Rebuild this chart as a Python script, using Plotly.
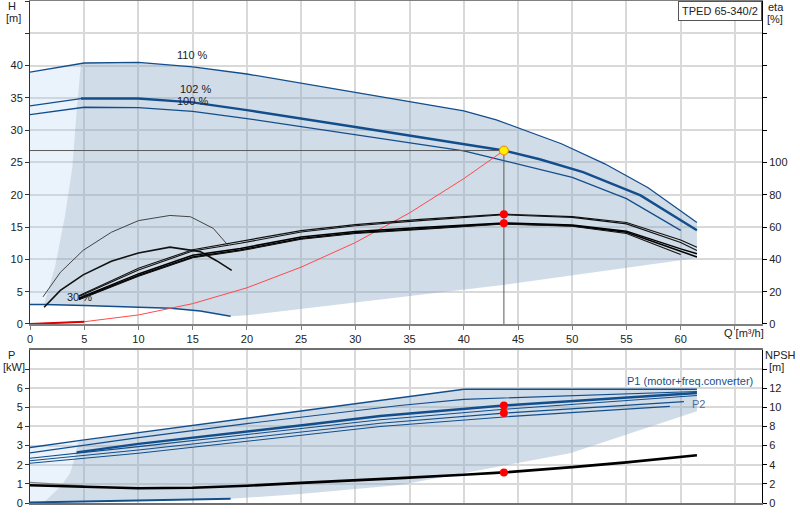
import plotly.graph_objects as go

# head curves, Q in m3/h, H in m
q_110 = [0, 5, 10, 15, 20, 30, 40, 43, 46, 49, 53, 57, 61.5]
h_110 = [39.0, 40.4, 40.5, 39.8, 38.7, 35.9, 33.0, 31.6, 29.8, 27.9, 24.8, 21.1, 15.7]
q_102_start = [0, 4.7]
h_102_start = [33.75, 34.9]
q_102 = [4.7, 10, 15, 20, 30, 40, 43.7, 47, 51, 56.3, 61.5]
h_102 = [34.9, 34.9, 34.3, 33.1, 30.5, 27.8, 26.85, 25.5, 23.5, 19.9, 14.5]
q_100 = [0, 5, 10, 15, 20, 30, 40, 43.4, 46.1, 50, 55, 60]
h_100 = [32.4, 33.55, 33.5, 32.9, 31.8, 29.3, 26.8, 25.4, 24.3, 22.7, 19.4, 14.5]
q_min = [0, 1.3, 5, 10, 13, 15.7, 18.5]
h_min = [3.0, 3.0, 2.85, 2.65, 2.42, 2.0, 1.2]

# edges of the operating range
q_left_edge = [1.3, 2.3, 3.2, 3.9, 4.3, 4.7]
h_left_edge = [3.0, 8.8, 16.5, 24.2, 33.0, 40.4]
q_low_edge = [61.5, 43.4, 30, 20.3, 18.5]
h_low_edge = [10.2, 6.0, 3.3, 1.4, 1.2]

# 30 % curves
q_hump_thin = [1.2, 2.8, 4.9, 7.5, 10, 12.9, 14.8, 16.9, 18.2]
h_hump_thin = [4.2, 8.0, 11.4, 14.2, 16.0, 16.8, 16.6, 14.8, 12.3]
q_hump = [1.3, 2.8, 4.9, 7.5, 10, 12.9, 15.7, 17.2, 18.6]
h_hump = [2.6, 5.2, 7.6, 9.7, 11.0, 11.9, 11.2, 9.8, 8.3]

# system curve
q_sys = [0, 5, 10, 15, 20, 25, 30, 35, 40, 43.7]
h_sys = [0, 0.35, 1.4, 3.15, 5.6, 8.8, 12.6, 17.2, 22.5, 26.85]

# efficiency curves, eta in %
q_eta = [4.5, 10, 15, 19.4, 25, 30, 36, 43.7, 50, 55, 60, 61.5]
eta_1 = [17.5, 34.5, 46.0, 51.0, 57.8, 61.5, 64.8, 68.0, 66.5, 62.8, 52.0, 47.5]
eta_2 = [17.0, 33.5, 45.2, 50.0, 57.0, 60.8, 64.0, 67.6, 66.0, 62.0, 50.5, 45.5]
eta_3 = [16.0, 31.0, 42.5, 46.8, 53.8, 57.3, 59.8, 62.6, 61.3, 57.5, 46.5, 43.5]
eta_4 = [15.5, 30.0, 41.5, 45.8, 53.0, 56.5, 59.0, 62.2, 60.9, 56.8, 45.0, 41.5]
q_eta_5 = [4.5, 10, 15, 19.4, 25, 30, 36, 43.7, 50, 55, 60]
eta_5 = [15.0, 29.5, 41.0, 45.3, 52.5, 56.0, 58.6, 61.9, 60.5, 56.0, 43.0]

# power curves, P in kW
q_p1_110 = [0, 5, 40, 61.5]
p_p1_110 = [2.9, 3.3, 5.95, 5.95]
q_p2_110 = [0, 10, 20, 34.1, 40, 61.5]
p_p2_110 = [2.62, 3.42, 4.15, 5.1, 5.42, 5.83]
q_p1_102 = [4.3, 10, 24.9, 32.3, 43.7, 61.5]
p_p1_102 = [2.65, 3.09, 4.05, 4.55, 5.1, 5.75]
q_p1_100 = [0, 10, 32.3, 43.7, 61.5]
p_p1_100 = [2.34, 2.95, 4.35, 4.9, 5.62]
q_p2_102 = [0, 10, 32.3, 43.7, 60.3]
p_p2_102 = [2.21, 2.77, 4.17, 4.7, 5.3]
q_p2_100 = [0, 10, 32.3, 43.7, 59]
p_p2_100 = [2.08, 2.6, 4.0, 4.5, 5.05]
q_p_min = [0, 18.5]
p_p_min = [0.03, 0.22]

q_p_left_edge = [1.2, 2.8, 3.7, 4.15, 4.4, 4.6]
p_p_left_edge = [0.0, 0.85, 1.55, 2.4, 3.1, 3.25]
q_p_low_edge = [61.5, 49.8, 34.1, 24.9, 18.5]
p_p_low_edge = [4.8, 2.6, 0.94, 0.47, 0.22]

# NPSH in m
q_npsh = [0, 5, 10, 15, 20, 25, 30, 34.1, 40, 43.7, 50, 55, 61.5]
npsh = [1.85, 1.7, 1.55, 1.6, 1.8, 2.1, 2.35, 2.6, 2.95, 3.2, 3.75, 4.25, 5.0]
q_npsh_thin = [0, 5]
npsh_thin = [2.15, 1.8]

# duty point
q_duty = 43.7
h_duty = 26.85
eta_duty = [67.9, 62.4]
p_duty = [5.1, 4.7]
npsh_duty = 3.2

BLUE = '#134e8c'
DARK = 'rgba(138,168,198,0.4)'
LIGHT = 'rgba(180,210,245,0.28)'

fig = go.Figure()


def line(x, y, color, width, xa='x', ya='y'):
    fig.add_trace(go.Scatter(x=x, y=y, mode='lines', xaxis=xa, yaxis=ya,
                             line=dict(color=color, width=width),
                             hoverinfo='skip'))


def area(x, y, color, xa='x', ya='y'):
    fig.add_trace(go.Scatter(x=x, y=y, mode='lines', fill='toself', fillcolor=color,
                             xaxis=xa, yaxis=ya, line=dict(width=0),
                             hoverinfo='skip'))


# top panel shading
area([q_min[0]] + [q_110[0]] + q_left_edge[::-1],
     [h_min[0]] + [h_110[0]] + h_left_edge[::-1], LIGHT)
area(q_left_edge + q_110[1:] + q_low_edge + q_min[1:-1][::-1],
     h_left_edge + h_110[1:] + h_low_edge + h_min[1:-1][::-1], DARK)

# bottom panel shading
area([0, q_p1_110[0], q_p1_110[1]] + q_p_left_edge[::-1],
     [0, p_p1_110[0], p_p1_110[1]] + p_p_left_edge[::-1], LIGHT, 'x2', 'y3')
area(q_p_left_edge + q_p1_110[1:] + q_p_low_edge,
     p_p_left_edge + p_p1_110[1:] + p_p_low_edge, DARK, 'x2', 'y3')

# head curves
line(q_110, h_110, BLUE, 1.3)
line(q_102_start, h_102_start, BLUE, 1.2)
line(q_102, h_102, BLUE, 2.4)
line(q_100, h_100, BLUE, 1.3)
line(q_min, h_min, BLUE, 1.5)

# guide lines to duty point
line([0, q_duty], [h_duty, h_duty], '#5a5a5a', 1)
line([q_duty, q_duty], [0, h_duty], '#5a5a5a', 1)

# system curve
line(q_sys, h_sys, '#ff4a4a', 1)
line(q_sys[:2], h_sys[:2], '#e00000', 2)

# 30 % curves
line(q_hump_thin, h_hump_thin, '#444444', 1)
line(q_hump, h_hump, '#111111', 1.6)

# efficiency
line(q_eta, eta_1, '#111111', 1.1, 'x', 'y2')
line(q_eta, eta_2, '#111111', 1.1, 'x', 'y2')
line(q_eta, eta_3, '#000000', 1.5, 'x', 'y2')
line(q_eta, eta_4, '#000000', 1.5, 'x', 'y2')
line(q_eta_5, eta_5, '#111111', 1.1, 'x', 'y2')

# power
line(q_p1_110, p_p1_110, BLUE, 1.4, 'x2', 'y3')
line(q_p2_110, p_p2_110, BLUE, 1.1, 'x2', 'y3')
line(q_p1_100, p_p1_100, BLUE, 1.1, 'x2', 'y3')
line(q_p2_102, p_p2_102, BLUE, 1.1, 'x2', 'y3')
line(q_p2_100, p_p2_100, BLUE, 1.1, 'x2', 'y3')
line(q_p1_102, p_p1_102, BLUE, 2.4, 'x2', 'y3')
line(q_p_min, p_p_min, BLUE, 2, 'x2', 'y3')

# NPSH
line(q_npsh_thin, npsh_thin, '#888888', 1.2, 'x2', 'y4')
line(q_npsh, npsh, '#000000', 2.6, 'x2', 'y4')

# duty markers
dot = dict(color='#ff0000', size=8)
fig.add_trace(go.Scatter(x=[q_duty] * 2, y=eta_duty, mode='markers', marker=dot,
                         xaxis='x', yaxis='y2', hoverinfo='skip'))
fig.add_trace(go.Scatter(x=[q_duty] * 2, y=p_duty, mode='markers', marker=dot,
                         xaxis='x2', yaxis='y3', hoverinfo='skip'))
fig.add_trace(go.Scatter(x=[q_duty], y=[npsh_duty], mode='markers', marker=dot,
                         xaxis='x2', yaxis='y4', hoverinfo='skip'))
fig.add_trace(go.Scatter(x=[q_duty], y=[h_duty], mode='markers',
                         marker=dict(color='#ffee00', size=9, line=dict(color='#f08000', width=1)),
                         xaxis='x', yaxis='y', hoverinfo='skip'))

GRID = '#d9d9d9'
xticks = list(range(0, 70, 5))
xlabels = [str(v) for v in xticks[:-1]] + ['']

fig.update_layout(
    width=800, height=520,
    margin=dict(l=30, r=38, t=1, b=17),
    paper_bgcolor='white', plot_bgcolor='white',
    showlegend=False,
    font=dict(family='Liberation Sans, Arial, sans-serif', size=11, color='#222'),
    xaxis=dict(domain=[0, 1], range=[0, 67.5], anchor='y', automargin=False,
               tickvals=xticks, ticktext=xlabels,
               showgrid=True, gridcolor=GRID, gridwidth=1.5, zeroline=False,
               showline=True, linecolor='#808080', linewidth=2, mirror=True,
               ticks='outside', ticklen=4, tickcolor='#808080'),
    yaxis=dict(domain=[0.3566, 1], range=[0, 50], anchor='x', automargin=False,
               tickvals=list(range(0, 55, 5)),
               ticktext=[str(v) for v in range(0, 45, 5)] + ['', ''],
               showgrid=True, gridcolor=GRID, gridwidth=1.5, zeroline=False,
               showline=True, linecolor='#333', linewidth=1,
               ticks='outside', ticklen=4, tickcolor='#333'),
    yaxis2=dict(overlaying='y', side='right', anchor='x', range=[0, 200], automargin=False,
                tickvals=list(range(0, 200, 20)),
                ticktext=[str(v) for v in range(0, 120, 20)] + ['', '', '', ''],
                showgrid=False, zeroline=False,
                showline=True, linecolor='#000', linewidth=1,
                ticks='outside', ticklen=4, tickcolor='#000'),
    xaxis2=dict(domain=[0, 1], range=[0, 67.5], anchor='y3', matches='x', automargin=False,
                tickvals=xticks, showticklabels=False,
                showgrid=True, gridcolor=GRID, gridwidth=1.5, zeroline=False,
                showline=True, linecolor='#707070', linewidth=2, mirror=True,
                ticks=''),
    yaxis3=dict(domain=[0, 0.3048], range=[0, 8], anchor='x2', automargin=False,
                tickvals=list(range(0, 8)),
                ticktext=[str(v) for v in range(0, 7)] + [''],
                showgrid=True, gridcolor=GRID, gridwidth=1.5, zeroline=False,
                showline=True, linecolor='#333', linewidth=1,
                ticks='outside', ticklen=4, tickcolor='#333'),
    yaxis4=dict(overlaying='y3', side='right', anchor='x2', range=[0, 16], automargin=False,
                tickvals=list(range(0, 16, 2)),
                ticktext=[str(v) for v in range(0, 14, 2)] + [''],
                showgrid=False, zeroline=False,
                showline=True, linecolor='#000', linewidth=1,
                ticks='outside', ticklen=4, tickcolor='#000'),
)


def text(s, x, y, xref='paper', yref='paper', xanchor='center', color='#222', **kw):
    fig.add_annotation(text=s, x=x, y=y, xref=xref, yref=yref, xanchor=xanchor,
                       yanchor='middle', showarrow=False, font=dict(color=color, size=11), **kw)


text('H', -0.0246, 0.990)
text('[m]', -0.0219, 0.966)
text('eta', 1.019, 0.988)
text('[%]', 1.018, 0.964)
text('Q [m³/h]', 0.975, 0.339)
text('P', -0.0246, 0.295)
text('[kW]', -0.0219, 0.271)
text('NPSH', 1.049, 0.295, xanchor='right')
text('[m]', 1.020, 0.271)

text('110 %', 15.0, 41.7, 'x', 'y')
text('102 %', 15.3, 36.4, 'x', 'y')
text('100 %', 15.0, 34.5, 'x', 'y')
text('30 %', 4.6, 4.2, 'x', 'y')
text('P1 (motor+freq.converter)', 66.9, 6.4, 'x2', 'y3', xanchor='right', color='#1a4f8a')
text('P2', 60.9, 5.2, 'x2', 'y3', xanchor='left', color='#4a6f9a')

fig.add_annotation(text='TPED 65-340/2', x=1, y=1, xref='paper', yref='paper',
                   xanchor='right', yanchor='top', showarrow=False,
                   bordercolor='#555', borderwidth=1, borderpad=3, bgcolor='white',
                   font=dict(size=11, color='#222'))

# the page has no body margin in the reference, so drop the browser default
fig.write_html('out.html', config={'displayModeBar': False},
               post_script="document.body.style.margin = '0px';")
